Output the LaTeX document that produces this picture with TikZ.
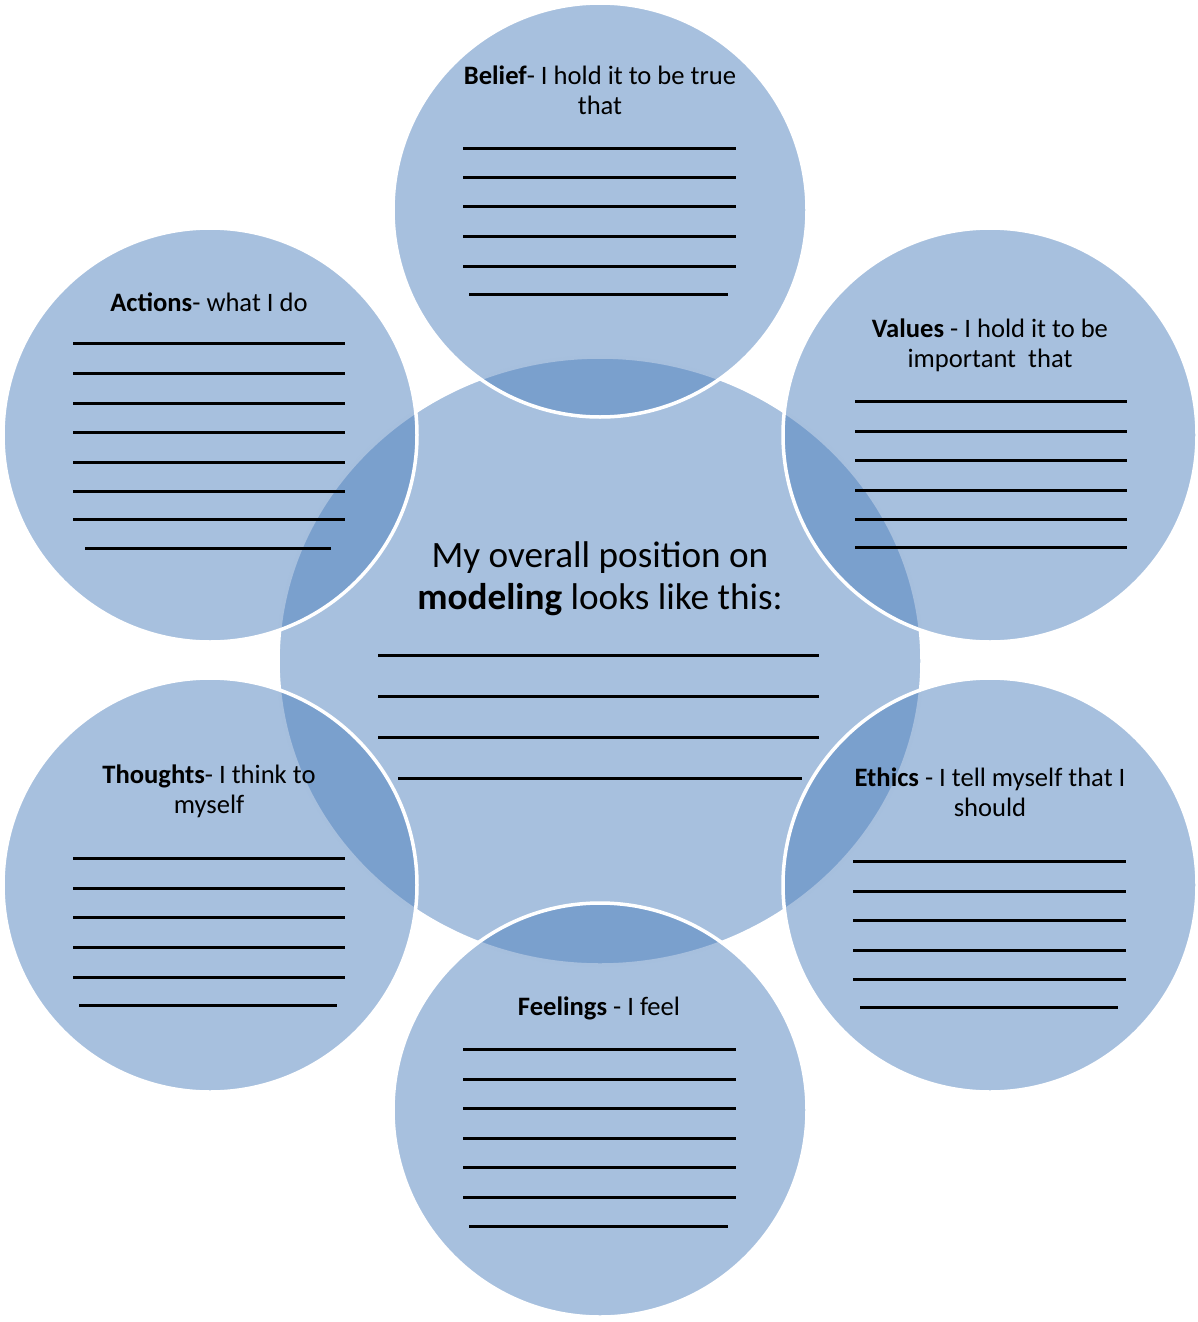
\documentclass[tikz,border=0pt]{standalone}
\usepackage{fontspec}
\setmainfont{Carlito}
\definecolor{petal}{HTML}{4F81BD}
\begin{document}
\begin{tikzpicture}[x=1pt,y=-1pt,
  disc/.style={fill=petal, fill opacity=0.5, draw=white, line width=3.5pt},
  blank/.style={line width=3pt, black},
  wideblank/.style={line width=3pt, black},
  head/.style={anchor=base, align=center, inner sep=0pt,
    font={\fontsize{26.6}{29.5}\selectfont}},
  core/.style={anchor=base, align=center, inner sep=0pt,
    font={\fontsize{37.2}{42}\selectfont}}]
\useasboundingbox (0,0) rectangle (1198,1322);

% central position ellipse, then the six surrounding circles
\path[disc] (600,661) ellipse [x radius=322pt, y radius=304pt];
\path[disc] (600,210)  circle [radius=207pt]; % belief
\path[disc] (210,435)  circle [radius=207pt]; % actions
\path[disc] (990,435)  circle [radius=207pt]; % values
\path[disc] (210,885)  circle [radius=207pt]; % thoughts
\path[disc] (990,885)  circle [radius=207pt]; % ethics
\path[disc] (600,1110) circle [radius=207pt]; % feelings

% headings (base anchor sits on the last line of each heading)
\node[head] (belief)   at (600,114)  {\textbf{Belief}- I hold it to be true\\that};
\node[head] (actions)  at (209,311)  {\textbf{Actions}- what I do};
\node[head] (values)   at (990,367)  {\textbf{Values} - I hold it to be\\important\ \ that};
\node[head] (thoughts) at (209,813)  {\textbf{Thoughts}- I think to\\myself};
\node[head] (ethics)   at (990,816)  {\textbf{Ethics} - I tell myself that I\\should};
\node[head] (feelings) at (599,1015) {\textbf{Feelings} - I feel};
\node[core] (position) at (600,609)  {My overall position on\\\textbf{modeling} looks like this:};

% writing lines
\foreach \y in {148,177,206,236,266} \draw[blank] (463,\y) -- (736,\y);
\draw[blank] (469,294) -- (728,294);
\foreach \y in {343,373,403,432,462,491,519} \draw[blank] (73,\y) -- (345,\y);
\draw[blank] (85,548) -- (331,548);
\foreach \y in {401,431,460,490,519,547} \draw[blank] (855,\y) -- (1127,\y);
\foreach \y in {858,888,917,947,977} \draw[blank] (73,\y) -- (345,\y);
\draw[blank] (79,1005) -- (337,1005);
\foreach \y in {861,891,920,950,979} \draw[blank] (853,\y) -- (1126,\y);
\draw[blank] (860,1007) -- (1118,1007);
\foreach \y in {1049,1079,1108,1138,1167,1197} \draw[blank] (463,\y) -- (736,\y);
\draw[blank] (469,1226) -- (728,1226);
\foreach \y in {655,696,737} \draw[wideblank] (378,\y) -- (819,\y);
\draw[wideblank] (398,778) -- (802,778);
\end{tikzpicture}
\end{document}
